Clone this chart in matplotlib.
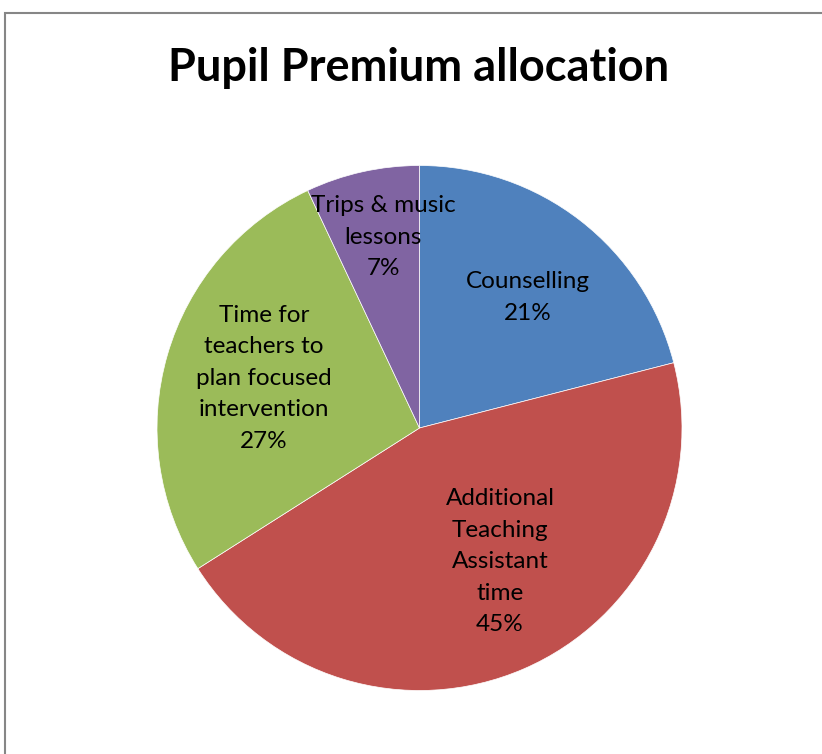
import matplotlib.pyplot as plt
from matplotlib.patches import Rectangle

# data
categories = ["Counselling", "Additional\nTeaching\nAssistant\ntime",
              "Time for\nteachers to\nplan focused\nintervention", "Trips & music\nlessons"]
shares = [21, 45, 27, 7]
colors = ["#4F81BD", "#C0504D", "#9BBB59", "#8064A2"]

# label positions (pie units, radius 1)
label_pos = [(0.413, 0.497), (0.307, -0.51), (-0.592, 0.19), (-0.139, 0.727)]

W, H = 822, 754
fig = plt.figure(figsize=(W / 100, H / 100), dpi=100)
plt.rcParams["font.family"] = ["Lato", "DejaVu Sans"]

# chart frame (only left/top edge visible in the crop)
fig.patches.append(Rectangle((5 / W, -0.1), 1.2, (H - 13) / H + 0.1,
                             transform=fig.transFigure, fill=False,
                             edgecolor="#868686", lw=1.5))

fig.text(419 / W, 1 - 68 / H, "Pupil Premium allocation", ha="center", va="center",
         fontsize=32.5, fontweight="bold")

cx, cy, r = 419.5, 428, 262.5
ax = fig.add_axes([(cx - r) / W, (H - cy - r) / H, 2 * r / W, 2 * r / H])
wedges, _ = ax.pie(shares, colors=colors, startangle=90, counterclock=False,
                   wedgeprops=dict(edgecolor="white", linewidth=0.5))
ax.set_xlim(-1, 1)
ax.set_ylim(-1, 1)
ax.set_aspect("equal")
ax.axis("off")

for name, val, (x, y) in zip(categories, shares, label_pos):
    ax.text(x, y, f"{name}\n{val}%", ha="center", va="center", fontsize=17.5,
            linespacing=1.62, color="black")

fig.savefig("out.png", dpi=100)
